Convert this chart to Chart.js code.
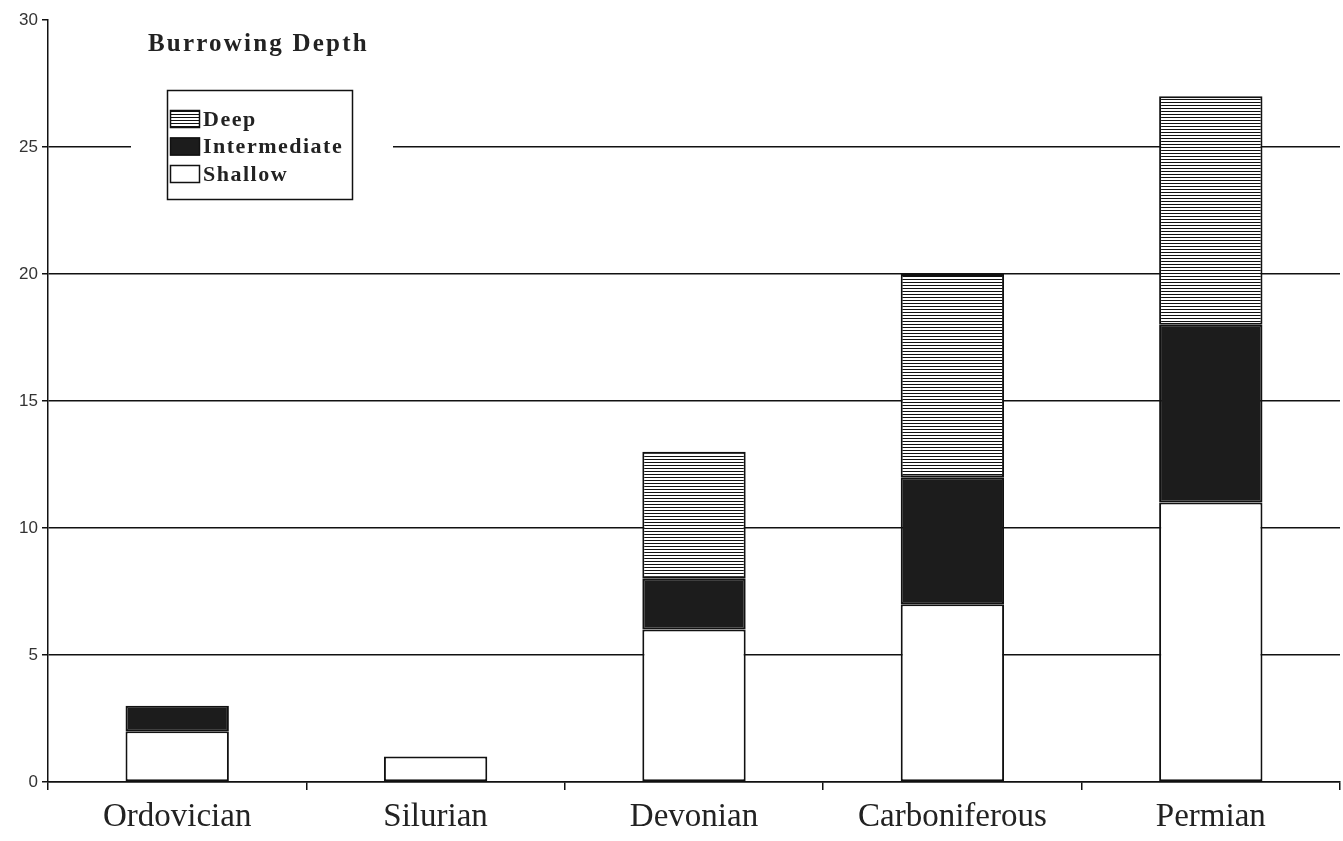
<!DOCTYPE html>
<html>
<head>
<meta charset="utf-8">
<script src="https://cdn.jsdelivr.net/npm/chart.js@4"></script>
<style>
  body { margin: 0; background: #fff; }
  #burrowChart { display: block; }
</style>
</head>
<body>
<canvas id="burrowChart" width="1343" height="841"></canvas>
<script>
const periods = ['Ordovician', 'Silurian', 'Devonian', 'Carboniferous', 'Permian'];
const shallow = [2, 1, 6, 7, 11];
const intermediate = [1, 0, 2, 5, 7];
const deep = [0, 0, 5, 8, 9];
const yTicks = [0, 5, 10, 15, 20, 25, 30];

// horizontal hatch used for the "Deep" bars
function makeHatch() {
    const c = document.createElement('canvas');
    c.width = 4;
    c.height = 3;
    const g = c.getContext('2d');
    g.fillStyle = '#fff';
    g.fillRect(0, 0, 4, 3);
    g.fillStyle = '#111';
    g.fillRect(0, 0, 4, 1);
    return g.createPattern(c, 'repeat');
}

const ctx = document.getElementById('burrowChart').getContext('2d');
const hatch = makeHatch();

// title + boxed legend sitting inside the plot, like the original
const insetLegend = {
    id: 'insetLegend',
    beforeDatasetsDraw(chart) {
        const c = chart.ctx;
        c.save();
        c.fillStyle = '#fff';
        c.fillRect(131, 30, 262, 185);
        c.restore();
    },
    afterDraw(chart) {
        const c = chart.ctx;
        c.save();
        c.fillStyle = '#222';
        c.font = 'bold 25px "Liberation Serif"';
        c.letterSpacing = '2.2px';
        c.textBaseline = 'alphabetic';
        c.fillText('Burrowing Depth', 148, 51);

        c.strokeStyle = '#111';
        c.lineWidth = 1.5;
        c.strokeRect(167.5, 90.5, 185, 109);

        const sets = chart.data.datasets.slice().reverse();
        c.font = 'bold 22px "Liberation Serif"';
        c.letterSpacing = '1.5px';
        c.textBaseline = 'middle';
        sets.forEach((ds, i) => {
            const cy = 119 + i * 27.5;
            c.fillStyle = ds.backgroundColor;
            c.fillRect(170, cy - 9, 30, 18);
            c.strokeStyle = '#111';
            c.lineWidth = 1.5;
            c.strokeRect(170.5, cy - 8.5, 29, 17);
            c.fillStyle = '#222';
            c.fillText(ds.label, 203, cy + 1);
        });
        c.restore();
    }
};

new Chart(ctx, {
    type: 'bar',
    data: {
        labels: periods,
        datasets: [
            { label: 'Shallow', data: shallow, backgroundColor: '#fff' },
            { label: 'Intermediate', data: intermediate, backgroundColor: '#1c1c1c' },
            { label: 'Deep', data: deep, backgroundColor: hatch }
        ].map(d => Object.assign(d, {
            borderColor: '#111',
            borderWidth: 2,
            borderSkipped: false,
            barPercentage: 0.5,
            categoryPercentage: 0.8
        }))
    },
    options: {
        responsive: false,
        animation: false,
        layout: {
            padding: { top: 20, right: 3, left: 0, bottom: 0 }
        },
        plugins: {
            legend: { display: false },
            tooltip: { enabled: false }
        },
        scales: {
            x: {
                stacked: true,
                border: { color: '#111', width: 1.5 },
                grid: {
                    offset: true,
                    drawOnChartArea: false,
                    tickLength: 8,
                    tickColor: '#111',
                    lineWidth: 1.5
                },
                ticks: {
                    color: '#222',
                    font: { family: '"Liberation Serif"', size: 33 },
                    padding: 8
                },
                afterFit: s => { s.height = 59; }
            },
            y: {
                stacked: true,
                min: 0,
                max: 30,
                afterBuildTicks: s => { s.ticks = yTicks.map(v => ({ value: v })); },
                border: { color: '#111', width: 1.5 },
                grid: {
                    color: c => (c.tick && c.tick.value === 30) ? 'rgba(0,0,0,0)' : '#111',
                    tickColor: '#111',
                    tickLength: 6,
                    lineWidth: 1.5
                },
                ticks: {
                    color: '#333',
                    font: { family: '"Liberation Sans"', size: 17 },
                    padding: 4
                },
                afterFit: s => { s.width = 48; }
            }
        }
    },
    plugins: [insetLegend]
});
</script>
</body>
</html>
